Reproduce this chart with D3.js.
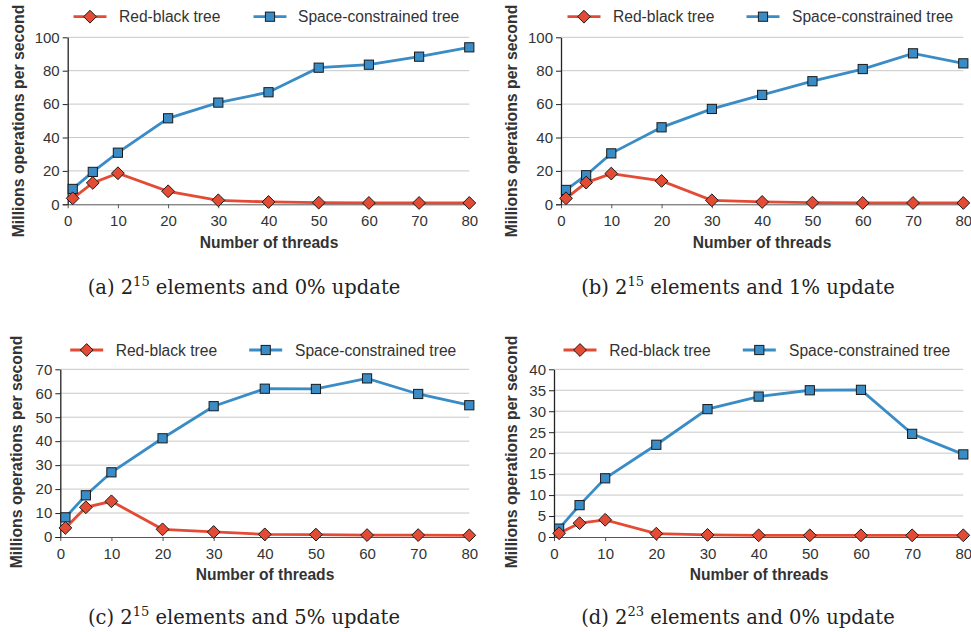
<!DOCTYPE html>
<html><head><meta charset="utf-8">
<script src="https://cdn.jsdelivr.net/npm/d3@7"></script>
<style>
body{margin:0;background:#fff;}
svg{display:block;}
</style></head>
<body>
<svg id="c" width="971" height="632"></svg>
<script>
const threads = [1,5,10,20,30,40,50,60,70,80];
const xTicks = [0,10,20,30,40,50,60,70,80];
const seriesNames = ["Red-black tree","Space-constrained tree"];

const rbA = [3.6,12.8,18.6,7.8,2.4,1.4,1.0,0.8,0.8,0.8];
const scA = [9.2,19.4,30.9,51.5,60.9,67.1,81.8,83.6,88.4,94.0];
const rbB = [3.6,13.0,18.4,14.0,2.4,1.4,1.0,0.8,0.8,0.8];
const scB = [8.6,17.4,30.5,46.1,57.1,65.5,73.7,81.0,90.4,84.4];
const rbC = [3.8,12.4,14.9,3.2,2.1,1.1,1.0,0.8,0.8,0.7];
const scC = [8.2,17.4,27.0,41.2,54.6,61.9,61.8,66.2,59.7,55.0];
const rbD = [0.9,3.3,4.1,0.8,0.5,0.4,0.4,0.4,0.4,0.4];
const scD = [2.0,7.6,14.0,22.0,30.5,33.5,35.0,35.1,24.6,19.7];

const yTicksA = [0,20,40,60,80,100];
const yTicksC = [0,10,20,30,40,50,60,70];
const yTicksD = [0,5,10,15,20,25,30,35,40];

const captionLabels = ["(a)","(b)","(c)","(d)"];
const captionExps = ["15","15","15","23"];
const captionRest = [" elements and 0% update"," elements and 1% update"," elements and 5% update"," elements and 0% update"];

const RED = "#e34b34", BLUE = "#3a8cc6";
const SANS = "Liberation Sans, Arial, sans-serif";
const svg = d3.select("#c");

const panels = [
  {rb:rbA, sc:scA, yt:yTicksA, ymax:100, L:67.7, R:469.3, T:37.3, B:204.3, ytx:18, ytc:121, xtc:269, xtb:248, legY:16.7, d1:90, t1:119, s1:270, t2:298, capX:244, capY:294},
  {rb:rbB, sc:scB, yt:yTicksA, ymax:100, L:561, R:963.3, T:37.3, B:204.3, ytx:511, ytc:121, xtc:762, xtb:248, legY:16.7, d1:584, t1:613, s1:763, t2:792, capX:738, capY:294},
  {rb:rbC, sc:scC, yt:yTicksC, ymax:70, L:60.3, R:469.3, T:369.3, B:537, ytx:16, ytc:452, xtc:265, xtb:580, legY:350, d1:86.7, t1:115.7, s1:265.7, t2:295, capX:244, capY:624},
  {rb:rbD, sc:scD, yt:yTicksD, ymax:40, L:554, R:963.3, T:369.3, B:537, ytx:511, ytc:452, xtc:759, xtb:580, legY:350, d1:580, t1:609.3, s1:759.3, t2:789, capX:738, capY:624}
];

function diamondPath(r){ return `M0,${-r}L${r},0L0,${r}L${-r},0Z`; }

panels.forEach((p,i)=>{
  const g = svg.append("g");
  const x = d3.scaleLinear().domain([0,80]).range([p.L,p.R]);
  const y = d3.scaleLinear().domain([0,p.ymax]).range([p.B,p.T]);

  g.append("g").selectAll("line").data(p.yt.filter(v=>v>0)).join("line")
    .attr("x1",p.L).attr("x2",p.R).attr("y1",d=>y(d)).attr("y2",d=>y(d))
    .attr("stroke","#c8c8c8").attr("stroke-width",1);

  const xa = g.append("g").attr("transform",`translate(0,${p.B})`)
    .call(d3.axisBottom(x).tickValues(xTicks).tickSize(4).tickPadding(7).tickSizeOuter(0));
  xa.select(".domain").attr("stroke","#555").attr("d",`M${p.L-5},0.5H${p.R}`);
  xa.selectAll(".tick line").attr("stroke","#555");
  xa.selectAll("text").attr("font-family",SANS).attr("font-size",15).attr("fill","#333");

  const ya = g.append("g").attr("transform",`translate(${p.L},0)`)
    .call(d3.axisLeft(y).tickValues(p.yt).tickSize(5).tickPadding(3).tickSizeOuter(0));
  ya.select(".domain").attr("stroke","#222").attr("stroke-width",1.3);
  ya.selectAll(".tick line").attr("stroke","#222");
  ya.selectAll("text").attr("font-family",SANS).attr("font-size",15).attr("fill","#333");

  g.append("text").attr("x",p.xtc).attr("y",p.xtb).attr("text-anchor","middle")
    .attr("font-family",SANS).attr("font-weight","bold")
    .attr("font-size",15.6).attr("fill","#333").text("Number of threads");
  g.append("text").attr("transform",`translate(${p.ytx},${p.ytc}) rotate(-90)`)
    .attr("text-anchor","middle").attr("dominant-baseline","central")
    .attr("font-family",SANS).attr("font-weight","bold")
    .attr("font-size",15.8).attr("fill","#333").text("Millions operations per second");

  const line = d3.line().x((d,j)=>x(threads[j])).y(d=>y(d));

  g.append("path").datum(p.sc).attr("d",line).attr("fill","none").attr("stroke",BLUE).attr("stroke-width",2.8);
  g.append("path").datum(p.rb).attr("d",line).attr("fill","none").attr("stroke",RED).attr("stroke-width",2.8);

  g.append("g").selectAll("rect").data(p.sc).join("rect")
    .attr("x",(d,j)=>x(threads[j])-4.6).attr("y",d=>y(d)-4.6).attr("width",9.2).attr("height",9.2)
    .attr("fill",BLUE).attr("stroke","#1a1a1a").attr("stroke-width",1);
  g.append("g").selectAll("path").data(p.rb).join("path")
    .attr("transform",(d,j)=>`translate(${x(threads[j])},${y(d)})`).attr("d",diamondPath(6.4))
    .attr("fill",RED).attr("stroke","#1a1a1a").attr("stroke-width",1);

  const lg = g.append("g");
  lg.append("line").attr("x1",p.d1-16.5).attr("x2",p.d1+16.5).attr("y1",p.legY).attr("y2",p.legY).attr("stroke",RED).attr("stroke-width",2.8);
  lg.append("path").attr("transform",`translate(${p.d1},${p.legY})`).attr("d",diamondPath(6.4)).attr("fill",RED).attr("stroke","#1a1a1a").attr("stroke-width",1);
  lg.append("text").attr("x",p.t1).attr("y",p.legY).attr("dominant-baseline","central")
    .attr("font-family",SANS).attr("font-size",15.6).attr("fill","#333").text(seriesNames[0]);
  lg.append("line").attr("x1",p.s1-16.5).attr("x2",p.s1+16.5).attr("y1",p.legY).attr("y2",p.legY).attr("stroke",BLUE).attr("stroke-width",2.8);
  lg.append("rect").attr("x",p.s1-4.6).attr("y",p.legY-4.6).attr("width",9.2).attr("height",9.2).attr("fill",BLUE).attr("stroke","#1a1a1a").attr("stroke-width",1);
  lg.append("text").attr("x",p.t2).attr("y",p.legY).attr("dominant-baseline","central")
    .attr("font-family",SANS).attr("font-size",15.6).attr("fill","#333").text(seriesNames[1]);

  const cap = g.append("text").attr("x",p.capX).attr("y",p.capY).attr("text-anchor","middle")
    .attr("font-family","DejaVu Serif, serif").attr("font-size",19.5).attr("fill","#222");
  cap.append("tspan").text(captionLabels[i] + " 2");
  cap.append("tspan").attr("dy",-8).attr("font-size",13).text(captionExps[i]);
  cap.append("tspan").attr("dy",8).text(captionRest[i]);
});
</script>
</body></html>
